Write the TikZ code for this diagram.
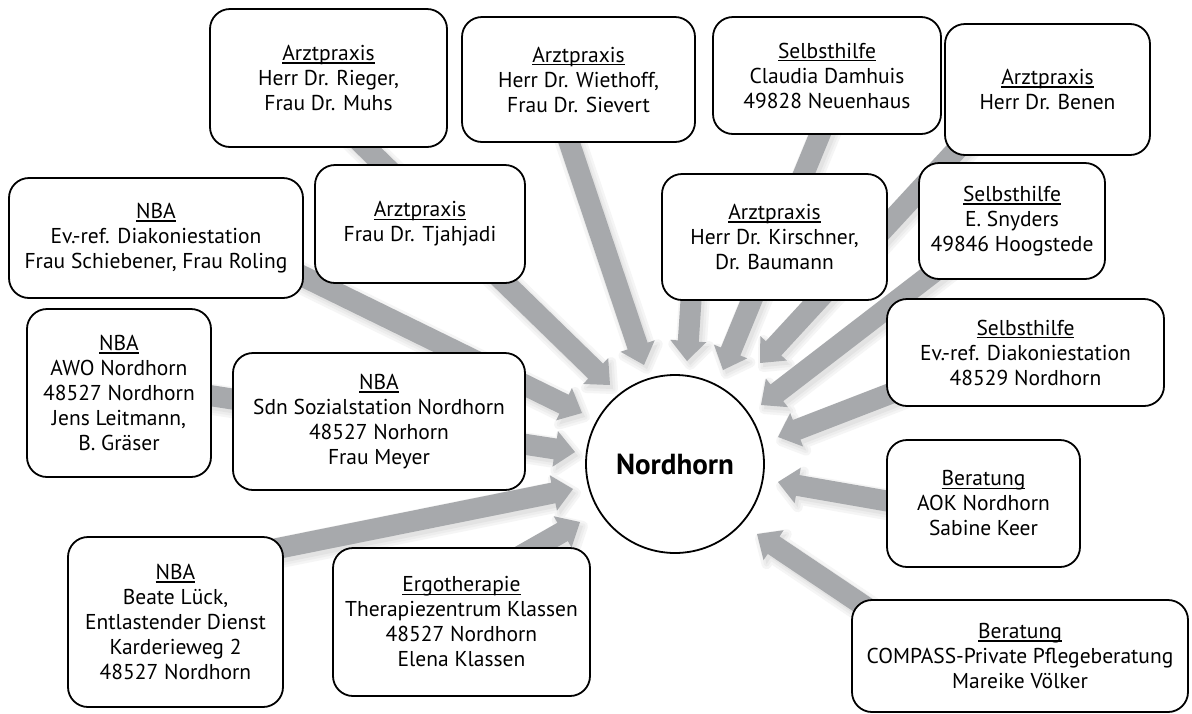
\documentclass[tikz,border=0pt]{standalone}
\usepackage{fontspec}
\setmainfont{PT Sans}
\usetikzlibrary{calc}
\definecolor{arrowgray}{RGB}{167,169,172}
\pgfdeclarelayer{bg}
\pgfsetlayers{bg,main}
\newcommand{\myul}[1]{\setbox0\hbox{#1}\rlap{\rule[-3.2pt]{\wd0}{1.3pt}}\box0}
\newcommand{\arrpoly}[4]{%
  \coordinate (S) at ([shift={(#3)}]#2.center);
  \coordinate (B) at ($(#4)!20pt!(S)$);
  \path[#1] ($(S)!10.5pt!90:(#4)$) -- ($(B)!10.5pt!90:(#4)$) -- ($(B)!18pt!90:(#4)$) -- (#4)
    -- ($(B)!18pt!-90:(#4)$) -- ($(B)!10.5pt!-90:(#4)$) -- ($(S)!10.5pt!-90:(#4)$) -- cycle;
}
\tikzset{
  box/.style={draw=black, line width=1.8pt, fill=white, rounded corners=20pt,
    align=center, inner sep=0pt, font=\fontsize{21.5}{25}\selectfont},
  hub/.style={circle, draw=black, line width=1.8pt, fill=white, minimum size=178pt,
    inner sep=0pt, font=\bfseries\fontsize{29}{32}\selectfont},
  arrowbody/.style={fill=arrowgray},
  shadowA/.style={fill=black!4, draw=black!4, line width=10pt, line join=round},
  shadowB/.style={fill=black!7, draw=black!7, line width=5pt, line join=round},
  shadowC/.style={fill=black!11},
}
\begin{document}
\begin{tikzpicture}[x=1pt,y=-1pt]
\useasboundingbox (0,0) rectangle (1192,713);
% boxes
\node[box, minimum width=237pt, minimum height=138pt] (rieger) at (328.5,78) {\myul{Arztpraxis}\\Herr Dr. Rieger,\\Frau Dr. Muhs};
\node[box, minimum width=233pt, minimum height=125pt] (wiethoff) at (578.5,79.5) {\myul{Arztpraxis}\\Herr Dr. Wiethoff,\\Frau Dr. Sievert};
\node[box, minimum width=228pt, minimum height=117pt] (damhuis) at (827,75.5) {\myul{Selbsthilfe}\\Claudia Damhuis\\49828 Neuenhaus};
\node[box, minimum width=205pt, minimum height=131pt] (benen) at (1047.5,89.5) {\myul{Arztpraxis}\\Herr Dr. Benen};
\node[box, minimum width=294pt, minimum height=120pt] (evref) at (156,238) {\myul{NBA}\\Ev.-ref. Diakoniestation\\Frau Schiebener, Frau Roling};
\node[box, minimum width=210pt, minimum height=118pt] (tjahjadi) at (420,224) {\myul{Arztpraxis}\\Frau Dr. Tjahjadi};
\node[box, minimum width=225pt, minimum height=126pt] (kirschner) at (774.5,237) {\myul{Arztpraxis}\\Herr Dr. Kirschner,\\Dr. Baumann};
\node[box, minimum width=186pt, minimum height=116pt] (snyders) at (1012,221) {\myul{Selbsthilfe}\\E. Snyders\\49846 Hoogstede};
\node[box, minimum width=277pt, minimum height=107pt] (shnord) at (1025.5,352.5) {\myul{Selbsthilfe}\\Ev.-ref. Diakoniestation\\48529 Nordhorn};
\node[box, minimum width=184pt, minimum height=168pt] (awo) at (119,393) {\myul{NBA}\\AWO Nordhorn\\48527 Nordhorn\\Jens Leitmann,\\B. Gräser};
\node[box, minimum width=292pt, minimum height=137pt] (sdn) at (379,421.5) {\myul{NBA}\\Sdn Sozialstation Nordhorn\\48527 Norhorn\\Frau Meyer};
\node[box, minimum width=193pt, minimum height=127pt] (aok) at (983.5,503.5) {\myul{Beratung}\\AOK Nordhorn\\Sabine Keer};
\node[box, minimum width=215pt, minimum height=170pt] (lueck) at (175.5,622) {\myul{NBA}\\Beate Lück,\\Entlastender Dienst\\Karderieweg 2\\48527 Nordhorn};
\node[box, minimum width=257pt, minimum height=148pt] (ergo) at (461.5,622) {\myul{Ergotherapie}\\Therapiezentrum Klassen\\48527 Nordhorn\\Elena Klassen};
\node[box, minimum width=336pt, minimum height=112pt] (compass) at (1020,656) {\myul{Beratung}\\COMPASS-Private Pflegeberatung\\Mareike Völker};
\node[hub] (nord) at (675,464) {Nordhorn};
% arrow tips
\coordinate (tRieger) at (610,385);
\coordinate (tWiethoff) at (644,365);
\coordinate (tKirschner) at (687,361);
\coordinate (tDamhuis) at (723,370);
\coordinate (tBenen) at (760,363);
\coordinate (tSnyders) at (761,405);
\coordinate (tSh) at (778,437);
\coordinate (tAok) at (778,482);
\coordinate (tCompass) at (757,534);
\coordinate (tEvref) at (582,413);
\coordinate (tAwo) at (575,452);
\coordinate (tLueck) at (573,489);
\coordinate (tErgo) at (580,522);
\def\arrowlist{rieger/{-11.5,22}/tRieger, wiethoff/{-18.5,35.5}/tWiethoff,
  kirschner/{-81.5,33}/tKirschner, damhuis/{3,34.5}/tDamhuis, benen/{-72.5,40.5}/tBenen,
  snyders/{-52,31}/tSnyders, shnord/{-115.5,33.5}/tSh, aok/{-73.5,1.5}/tAok,
  compass/{-135,-36}/tCompass, evref/{134,32}/tEvref, awo/{81,1}/tAwo,
  lueck/{89.5,-71}/tLueck, ergo/{38.5,-54.5}/tErgo}
\begin{pgfonlayer}{bg}
  \fill[white] (0,0) rectangle (1192,713);
  \begin{scope}[transform canvas={xshift=3pt,yshift=-4pt}]
    \foreach \n/\o/\t in \arrowlist {\arrpoly{shadowA}{\n}{\o}{\t}}
    \foreach \n/\o/\t in \arrowlist {\arrpoly{shadowB}{\n}{\o}{\t}}
    \foreach \n/\o/\t in \arrowlist {\arrpoly{shadowC}{\n}{\o}{\t}}
  \end{scope}
  \foreach \n/\o/\t in \arrowlist {\arrpoly{arrowbody}{\n}{\o}{\t}}
\end{pgfonlayer}
\end{tikzpicture}
\end{document}
